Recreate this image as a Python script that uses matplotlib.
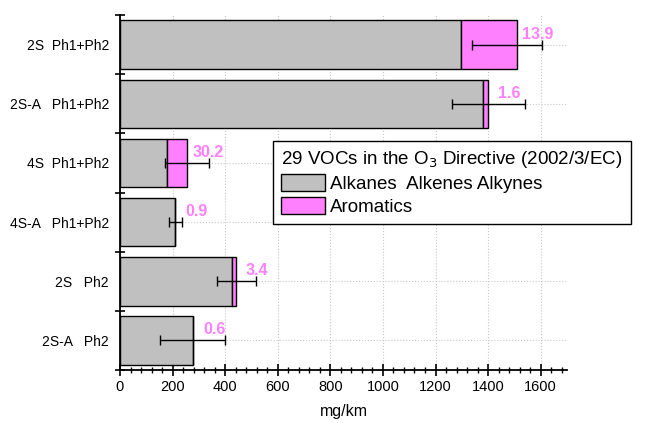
import numpy as np
import matplotlib.pyplot as plt
from matplotlib.ticker import MultipleLocator

plt.rcParams['font.family'] = ['Liberation Sans', 'DejaVu Sans']

# data (mg/km)
categories = ['2S  Ph1+Ph2', '2S-A   Ph1+Ph2', '4S  Ph1+Ph2', '4S-A   Ph1+Ph2', '2S   Ph2', '2S-A   Ph2']
alkanes = [1298, 1380, 177, 208, 425, 278]
aromatics = [211, 20, 78, 2, 17, 0]
err_low = [1338, 1263, 170, 185, 368, 152]
err_high = [1605, 1542, 337, 235, 516, 400]
arom_pct = ['13.9', '1.6', '30.2', '0.9', '3.4', '0.6']

gray = '#C0C0C0'
pink = '#FF80FF'

fig = plt.figure(figsize=(6.5, 4.23), dpi=100)
ax = fig.add_axes([0.1846, 0.1253, 0.6877, 0.8392])

y = np.arange(len(categories))
alk = np.array(alkanes)
aro = np.array(aromatics)
total = alk + aro

ax.barh(y, alk, height=0.82, color=gray, edgecolor='black', linewidth=1, zorder=3,
        label='Alkanes  Alkenes Alkynes')
ax.barh(y, aro, left=alk, height=0.82, color=pink, edgecolor='black', linewidth=1, zorder=3,
        label='Aromatics')

# error bars
lo = np.array(err_low)
hi = np.array(err_high)
mid = (lo + hi) / 2
ax.errorbar(mid, y, xerr=(hi - lo) / 2, fmt='none', ecolor='black', elinewidth=1,
            capsize=3.5, capthick=1, zorder=4)

for yi, t, txt in zip(y, total, arom_pct):
    ax.text(t + 80, yi - 0.05, txt, color=pink, fontsize=11.5, fontweight='bold',
            ha='center', va='bottom', zorder=5)

ax.set_xlim(0, 1700)
ax.set_ylim(5.5, -0.5)
ax.xaxis.set_major_locator(MultipleLocator(200))
ax.xaxis.set_minor_locator(MultipleLocator(40))
ax.set_xticks(np.arange(0, 1601, 200))
ax.set_yticks(y)
ax.set_yticklabels(categories)
ax.set_yticks(np.arange(-0.5, 5.6, 1), minor=True)

ax.tick_params(axis='y', which='major', length=0, labelsize=10, pad=8)
ax.tick_params(axis='y', which='minor', direction='inout', length=7, width=1.2)
ax.tick_params(axis='x', which='major', direction='inout', length=8, width=1.2, labelsize=10.5)
ax.tick_params(axis='x', which='minor', direction='inout', length=5, width=1)

for s in ['top', 'right']:
    ax.spines[s].set_visible(False)
for s in ['left', 'bottom']:
    ax.spines[s].set_linewidth(1.3)

ax.grid(True, which='major', axis='both', linestyle=':', color='#C8C8C8', linewidth=0.8, zorder=0)
ax.set_axisbelow(True)

ax.set_xlabel('mg/km', fontsize=11.5, labelpad=7)

leg = ax.legend(title='29 VOCs in the O$_3$ Directive (2002/3/EC)', loc='upper left',
                bbox_to_anchor=(273 / 650, 1 - 141 / 423), bbox_transform=fig.transFigure,
                fontsize=13.5, title_fontsize=13.5, frameon=True, fancybox=False,
                edgecolor='black', framealpha=1, borderaxespad=0,
                handlelength=2.3, handleheight=1.0, handletextpad=0.3,
                labelspacing=0.2, borderpad=0.45)
leg._legend_box.align = 'left'
leg.get_frame().set_linewidth(1)
leg.set_zorder(6)

fig.savefig('out.png', dpi=100)
